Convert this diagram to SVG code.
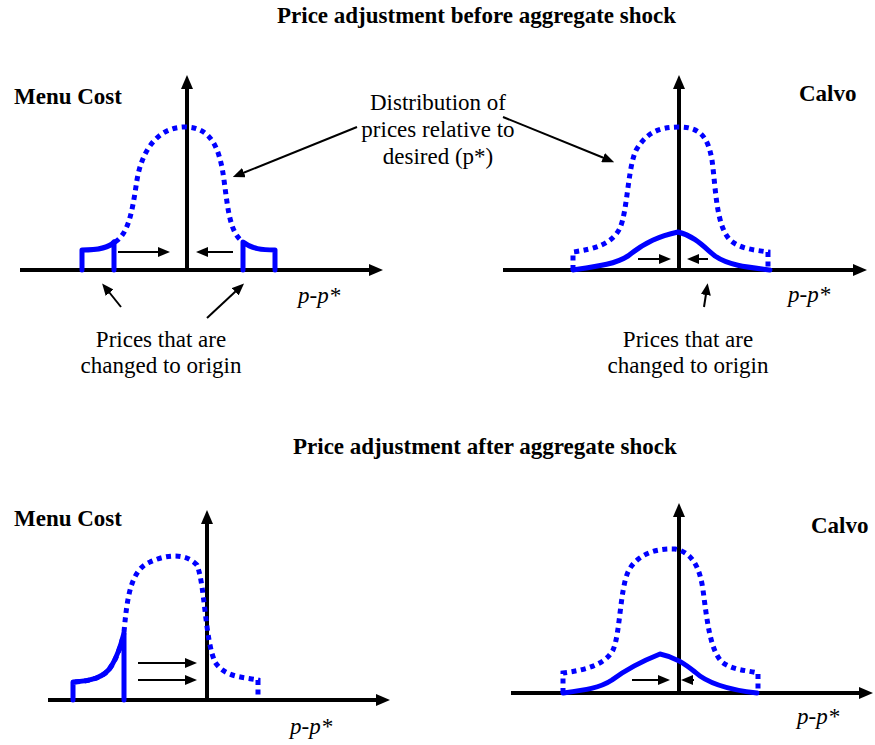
<svg xmlns="http://www.w3.org/2000/svg" width="875" height="745" viewBox="0 0 875 745">
<style>
text{font-family:'Liberation Serif',serif;font-size:23px;fill:#000}
.b{font-weight:bold}
.i{font-style:italic}
.m{text-anchor:middle}
.ax{stroke:#000;stroke-width:4;fill:none;marker-end:url(#ah)}
.thin{stroke:#000;stroke-width:2;fill:none;marker-end:url(#sh)}
.dot{stroke:#0000ff;stroke-width:5;fill:none;stroke-dasharray:5 4.5}
.sol{stroke:#0000ff;stroke-width:5;fill:none;stroke-linecap:round;stroke-linejoin:round}
</style>
<defs>
<marker id="ah" markerUnits="userSpaceOnUse" markerWidth="14" markerHeight="12" viewBox="0 0 14 12" refX="1" refY="6" orient="auto"><path d="M0,0 L14,6 L0,12 z" fill="#000"/></marker>
<marker id="sh" markerUnits="userSpaceOnUse" markerWidth="12" markerHeight="10" viewBox="0 0 12 10" refX="1" refY="5" orient="auto"><path d="M0,0 L12,5 L0,10 z" fill="#000"/></marker>
</defs>
<rect width="875" height="745" fill="#fff"/>

<g id="titles">
<text class="b" x="277" y="23">Price adjustment before aggregate shock</text>
<text class="b" x="293" y="454">Price adjustment after aggregate shock</text>
</g>

<g id="panel-top-menu">
<text class="b" x="14" y="104">Menu Cost</text>
<line class="ax" x1="20" y1="270" x2="370" y2="270"/>
<line class="ax" x1="187" y1="270" x2="187" y2="88"/>
<path class="dot" d="M115,242 C130,233 133,205 137,180 C142,150 158,127 185,127 C212,127 220,150 224,180 C228,210 230,232 242,241"/>
<path class="sol" d="M82,270 L82,250 C95,250 108,249 114,242 L114,270"/>
<path class="sol" d="M243,270 L243,242 C252,249 262,250 275,250 L275,270"/>
<line class="thin" x1="118" y1="252" x2="159" y2="252"/>
<line class="thin" x1="233" y1="252" x2="207" y2="252"/>
<text class="i" x="298" y="303">p-p*</text>
</g>

<g id="panel-top-calvo">
<text class="b" x="799" y="101">Calvo</text>
<line class="ax" x1="503" y1="270" x2="854" y2="270"/>
<line class="ax" x1="679" y1="270" x2="679" y2="88"/>
<path class="dot" d="M573,270 L573,252 C595,249 612,244 620,228 C628,210 628,160 638,147 C648,132 660,127 679,127 C700,127 708,137 712,160 C716,190 716,225 730,240 C740,249 755,250 768,252 L768,270"/>
<path class="sol" d="M573,270 C600,266 615,264 628,256 C645,242 660,236 678,232 C695,236 705,248 715,256 C728,265 745,267 770,270"/>
<line class="thin" x1="638" y1="259" x2="660" y2="259"/>
<line class="thin" x1="708" y1="259" x2="698" y2="259"/>
<text class="i" x="788" y="302">p-p*</text>
</g>

<g id="panel-bottom-menu">
<text class="b" x="14" y="526">Menu Cost</text>
<line class="ax" x1="48" y1="700" x2="377" y2="700"/>
<line class="ax" x1="207" y1="700" x2="207" y2="523"/>
<path class="dot" d="M124,632 C127,600 130,570 150,562 C165,555 185,552 197,565 C205,585 205,640 215,662 C225,678 245,677 258,680 L258,697"/>
<path class="sol" d="M73,700 L73,682 C90,681 105,678 112,665 C118,655 121,645 124,633 L124,700"/>
<path class="dot" d="M75,682 C90,681 105,678 112,665 C118,655 121,645 124,633"/>
<line class="thin" x1="138" y1="663" x2="186" y2="663"/>
<line class="thin" x1="138" y1="680" x2="186" y2="680"/>
<text class="i" x="290" y="734">p-p*</text>
</g>

<g id="panel-bottom-calvo">
<text class="b" x="811" y="533">Calvo</text>
<line class="ax" x1="511" y1="693" x2="860" y2="693"/>
<line class="ax" x1="679" y1="693" x2="679" y2="516"/>
<path class="dot" d="M563,693 L563,673 C585,670 605,665 613,650 C620,635 620,590 628,572 C636,555 655,548 675,549 C692,552 700,568 703,590 C707,620 710,650 722,662 C732,670 745,670 758,673 L758,693"/>
<path class="sol" d="M563,693 C585,690 600,688 612,680 C628,668 645,660 660,654 C675,657 685,664 695,672 C708,684 730,690 757,693"/>
<line class="thin" x1="632" y1="680" x2="659" y2="680"/>
<line class="thin" x1="694" y1="680" x2="692" y2="680"/>
<text class="i" x="797" y="724">p-p*</text>
</g>

<g id="label-distribution">
<text class="m" x="438" y="110">Distribution of</text>
<text class="m" x="438" y="137">prices relative to</text>
<text class="m" x="438" y="164">desired (p*)</text>
</g>
<g id="label-prices-left">
<text class="m" x="161" y="347">Prices that are</text>
<text class="m" x="161" y="373">changed to origin</text>
</g>
<g id="label-prices-right">
<text class="m" x="688" y="347">Prices that are</text>
<text class="m" x="688" y="373">changed to origin</text>
</g>

<g id="connectors">
<line class="thin" x1="357" y1="127" x2="243" y2="173"/>
<line class="thin" x1="503" y1="117" x2="604" y2="158"/>
<line class="thin" x1="121" y1="307" x2="109" y2="292"/>
<line class="thin" x1="207" y1="318" x2="236" y2="291"/>
<line class="thin" x1="704" y1="307" x2="706" y2="294"/>
</g>
</svg>
